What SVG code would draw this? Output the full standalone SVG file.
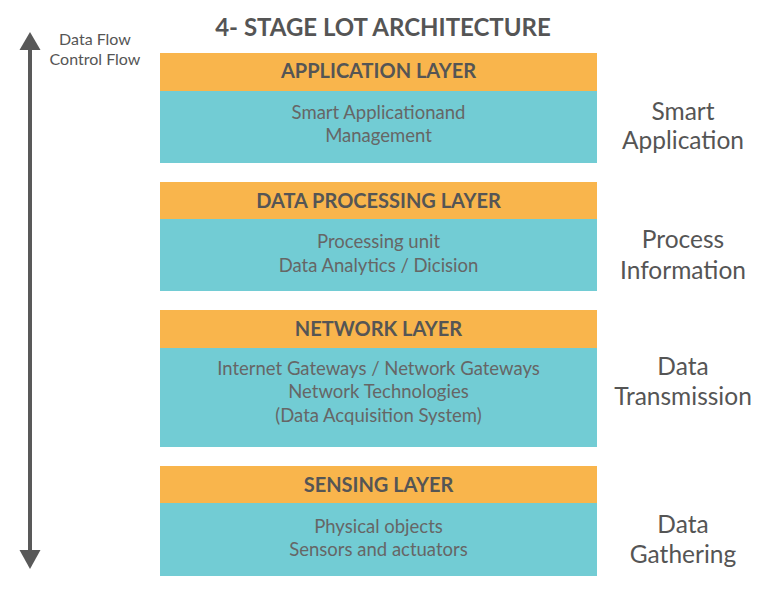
<svg xmlns="http://www.w3.org/2000/svg" width="768" height="603" viewBox="0 0 768 603">
<style>
.hd{fill:#F9B54C}
.bd{fill:#72CCD4}
text{font-family:"Lato","Open Sans",sans-serif;text-anchor:middle}
.t{font-size:24px;font-weight:bold;fill:#555}
.h{font-size:20px;font-weight:bold;fill:#555}
.b{font-size:18.5px;fill:#666}
.r{font-size:24.5px;fill:#555}
.f{font-size:16px;fill:#555}
</style>
<rect width="768" height="603" fill="#fff"/>
<text class="t" x="383" y="36">4- STAGE LOT ARCHITECTURE</text>
<g id="connectors">
<line x1="30" y1="50" x2="30" y2="550" stroke="#595959" stroke-width="4"/>
<path d="M30,32 L19.5,50 L40.5,50 Z" fill="#595959"/>
<path d="M30,569 L19.5,550 L40.5,550 Z" fill="#595959"/>
</g>
<g id="flow-label">
<text class="f" x="95" y="45">Data Flow</text>
<text class="f" x="95" y="65">Control Flow</text>
</g>
<g id="application">
<rect class="hd" x="160" y="53" width="437" height="38"/>
<rect class="bd" x="160" y="91" width="437" height="72"/>
<text class="h" x="378.5" y="78">APPLICATION LAYER</text>
<text class="b" x="378.5" y="119">Smart Applicationand</text>
<text class="b" x="378.5" y="142">Management</text>
</g>
<g id="processing">
<rect class="hd" x="160" y="182" width="437" height="37"/>
<rect class="bd" x="160" y="219" width="437" height="72"/>
<text class="h" x="378.5" y="208">DATA PROCESSING LAYER</text>
<text class="b" x="378.5" y="248">Processing unit</text>
<text class="b" x="378.5" y="272">Data Analytics / Dicision</text>
</g>
<g id="network">
<rect class="hd" x="160" y="310" width="437" height="38"/>
<rect class="bd" x="160" y="348" width="437" height="99"/>
<text class="h" x="378.5" y="336">NETWORK LAYER</text>
<text class="b" x="378.5" y="375">Internet Gateways / Network Gateways</text>
<text class="b" x="378.5" y="398">Network Technologies</text>
<text class="b" x="378.5" y="422">(Data Acquisition System)</text>
</g>
<g id="sensing">
<rect class="hd" x="160" y="466" width="437" height="37"/>
<rect class="bd" x="160" y="503" width="437" height="73"/>
<text class="h" x="378.5" y="492">SENSING LAYER</text>
<text class="b" x="378.5" y="533">Physical objects</text>
<text class="b" x="378.5" y="556">Sensors and actuators</text>
</g>
<g id="labels">
<text class="r" x="683" y="120">Smart</text>
<text class="r" x="683" y="149">Application</text>
<text class="r" x="683" y="248">Process</text>
<text class="r" x="683" y="279">Information</text>
<text class="r" x="683" y="375">Data</text>
<text class="r" x="683" y="405">Transmission</text>
<text class="r" x="683" y="533">Data</text>
<text class="r" x="683" y="563">Gathering</text>
</g>
</svg>
